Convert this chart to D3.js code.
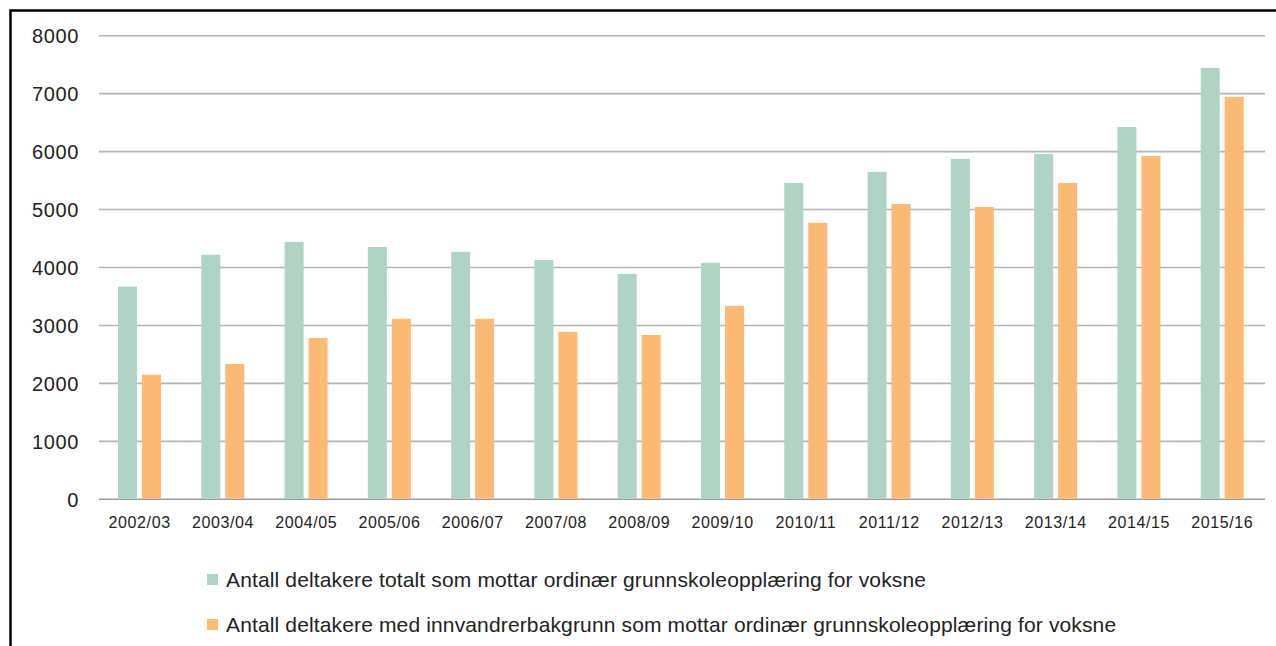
<!DOCTYPE html>
<html>
<head>
<meta charset="utf-8">
<title>Grunnskoleopplæring for voksne</title>
<style>
  body { margin: 0; background: #fff; }
  text { font-family: 'Liberation Sans', Arial, sans-serif; fill: #222; }
  .y-axis text { font-size: 20px; letter-spacing: 0.6px; }
  .x-axis text { font-size: 16px; letter-spacing: 0.6px; }
  .legend text { font-size: 21px; letter-spacing: 0.14px; }
</style>
</head>
<body>
<div id="chart"></div>
<script src="https://d3js.org/d3.v7.min.js"></script>
<script>
// school years
var years = ["2002/03", "2003/04", "2004/05", "2005/06", "2006/07", "2007/08", "2008/09",
             "2009/10", "2010/11", "2011/12", "2012/13", "2013/14", "2014/15", "2015/16"];

// total participants
var totalt = [3670, 4220, 4440, 4355, 4270, 4130, 3890, 4080, 5460, 5650, 5875, 5960, 6425, 7445];

// participants with immigrant background
var innvandrer = [2150, 2335, 2785, 3115, 3115, 2890, 2835, 3340, 4770, 5095, 5045, 5460, 5925, 6945];

var yTicks = [0, 1000, 2000, 3000, 4000, 5000, 6000, 7000, 8000];

var seriesNames = [
  "Antall deltakere totalt som mottar ordinær grunnskoleopplæring for voksne",
  "Antall deltakere med innvandrerbakgrunn som mottar ordinær grunnskoleopplæring for voksne"
];
var colors = ["#afd3c5", "#fdba74"];

var width = 1276, height = 646;

var svg = d3.select("#chart").append("svg")
  .attr("width", width)
  .attr("height", height);

// frame round the figure
svg.append("rect")
  .attr("x", 10.5).attr("y", 10.5)
  .attr("width", 1300).attr("height", 700)
  .attr("fill", "none")
  .attr("stroke", "#000")
  .attr("stroke-width", 2.5);

var x0 = d3.scaleBand()
  .domain(years)
  .range([99, 1265]);

var x1 = d3.scaleBand()
  .domain([0, 1])
  .range([19, 62])
  .paddingInner(0.208);

var y = d3.scaleLinear()
  .domain([0, 8000])
  .range([499.3, 35.7]);

// gridlines
svg.append("g")
  .selectAll("line")
  .data(yTicks)
  .enter().append("line")
  .attr("x1", 99).attr("x2", 1265)
  .attr("y1", function(d) { return y(d); })
  .attr("y2", function(d) { return y(d); })
  .attr("stroke", function(d) { return d === 0 ? "#9a9a9a" : "#b4b4b4"; })
  .attr("stroke-width", 1.6);

// y labels
svg.append("g")
  .attr("class", "y-axis")
  .selectAll("text")
  .data(yTicks)
  .enter().append("text")
  .attr("x", 79)
  .attr("y", function(d) { return y(d); })
  .attr("dy", "0.36em")
  .attr("text-anchor", "end")
  .text(function(d) { return d; });

// x labels
svg.append("g")
  .attr("class", "x-axis")
  .selectAll("text")
  .data(years)
  .enter().append("text")
  .attr("x", function(d) { return x0(d) + x0.bandwidth() / 2 - 1; })
  .attr("y", 522)
  .attr("dy", "0.36em")
  .attr("text-anchor", "middle")
  .text(function(d) { return d; });

// bars
var data = years.map(function(d, i) { return { year: d, values: [totalt[i], innvandrer[i]] }; });

var groups = svg.append("g")
  .selectAll("g")
  .data(data)
  .enter().append("g")
  .attr("transform", function(d) { return "translate(" + x0(d.year) + ",0)"; });

groups.selectAll("rect")
  .data(function(d) { return d.values; })
  .enter().append("rect")
  .attr("x", function(d, i) { return x1(i); })
  .attr("width", x1.bandwidth())
  .attr("y", function(d) { return y(d); })
  .attr("height", function(d) { return y(0) - y(d) - 0.8; })
  .attr("fill", function(d, i) { return colors[i]; });

// legend
var legend = svg.append("g")
  .attr("class", "legend")
  .selectAll("g")
  .data(seriesNames)
  .enter().append("g")
  .attr("transform", function(d, i) { return "translate(207," + (579.5 + i * 45) + ")"; });

legend.append("rect")
  .attr("x", 0).attr("y", -5.5)
  .attr("width", 11).attr("height", 11)
  .attr("fill", function(d, i) { return colors[i]; });

legend.append("text")
  .attr("x", 19)
  .attr("dy", "0.36em")
  .text(function(d) { return d; });
</script>
</body>
</html>
